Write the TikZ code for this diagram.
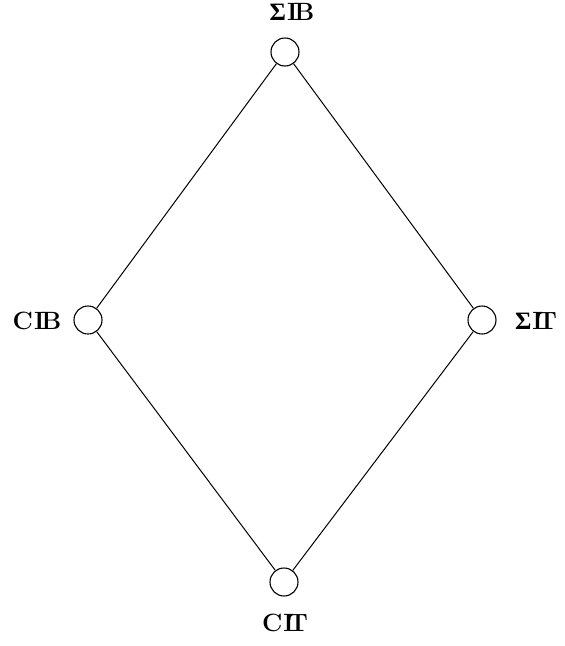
\documentclass[tikz,border=0pt]{standalone}
\usepackage{fontspec}
\newfontfamily\gkfont{Liberation Serif}
\newcommand{\dbB}{I\kern-0.13em B}
\newcommand{\dbT}{I\kern-0.22em T}
\newcommand{\bSig}{{\gkfont Σ}}
\begin{document}
\begin{tikzpicture}[x=1pt,y=-1pt,
  vert/.style={circle,draw,line width=1.1pt,minimum size=28pt,inner sep=0pt},
  lab/.style={font=\fontsize{25}{29}\selectfont\bfseries,inner sep=0pt},
  edge/.style={line width=1pt}]
\useasboundingbox (0,0) rectangle (565,646);
\node[vert] (top) at (285,52) {};
\node[vert] (left) at (88,320) {};
\node[vert] (right) at (482,320) {};
\node[vert] (bot) at (284,582) {};
\node[lab,anchor=base] (ltop) at (292,20) {\bSig\kern1pt\dbB};
\node[lab,anchor=base] (lleft) at (37,329) {C\kern1pt\dbB};
\node[lab,anchor=base] (lright) at (536,329) {\bSig\kern1pt\dbT};
\node[lab,anchor=base] (lbot) at (285,631) {C\kern1pt\dbT};
\draw[edge] (top) -- (left);
\draw[edge] (top) -- (right);
\draw[edge] (left) -- (bot);
\draw[edge] (right) -- (bot);
\end{tikzpicture}
\end{document}
